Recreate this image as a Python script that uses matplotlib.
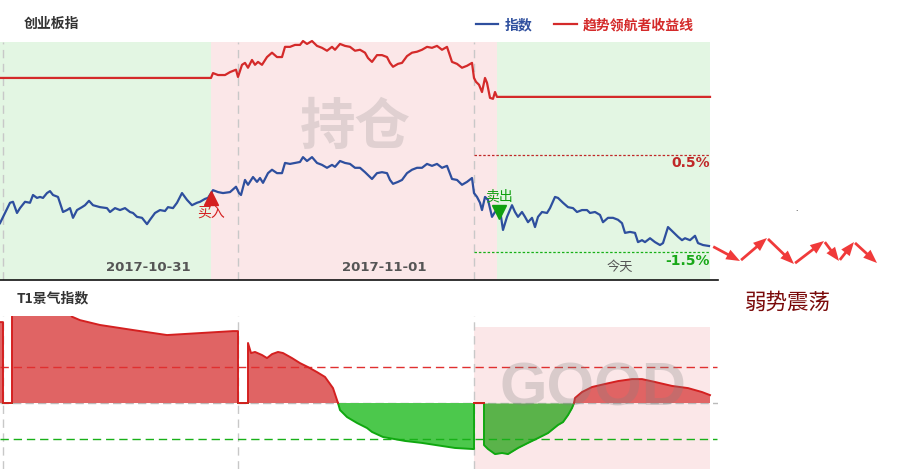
import numpy as np
import matplotlib
matplotlib.use("Agg")
import matplotlib.pyplot as plt
from matplotlib.patches import FancyArrowPatch

plt.rcParams['font.family'] = ['Noto Sans CJK SC', 'DejaVu Sans']

# === données : indice (variation en %) ===
idx_t = [0, 5, 10, 13, 17, 20, 25, 30, 33, 37, 40, 43, 47, 50, 53, 58, 63, 67, 70, 73,
         77, 82, 85, 89, 93, 100, 107, 110, 115, 120, 125, 130, 133, 137, 142, 147, 150, 155, 160, 165,
         168, 173, 177, 182, 187, 192, 197, 200, 205, 208, 213, 218, 223, 230, 236, 239, 241, 245, 248, 253,
         257, 260, 263, 268, 272, 277, 282, 285, 290, 295, 300, 303, 307, 312, 317, 322, 327, 332, 335, 340,
         345, 350, 355, 360, 365, 368, 372, 377, 382, 387, 390, 393, 398, 402, 407, 412, 417, 422, 427, 432,
         437, 442, 447, 452, 457, 462, 467, 472, 474, 477, 480, 482, 485, 488, 492, 495, 500, 503, 507, 512,
         515, 518, 522, 525, 528, 532, 535, 538, 542, 547, 550, 555, 558, 563, 568, 573, 577, 582, 587, 590,
         595, 600, 603, 608, 613, 618, 622, 625, 630, 635, 638, 642, 645, 650, 655, 660, 663, 668, 673, 678,
         682, 685, 690, 695, 698, 703, 709]
idx_val = [-0.91, -0.70, -0.49, -0.47, -0.70, -0.60, -0.47, -0.49, -0.33, -0.39, -0.37, -0.39, -0.29, -0.25, -0.33, -0.37, -0.68, -0.64, -0.60, -0.80,
           -0.64, -0.58, -0.54, -0.45, -0.54, -0.58, -0.60, -0.68, -0.60, -0.64, -0.60, -0.68, -0.70, -0.78, -0.80, -0.93, -0.84, -0.70, -0.64, -0.66,
           -0.58, -0.60, -0.49, -0.29, -0.43, -0.54, -0.49, -0.47, -0.41, -0.39, -0.23, -0.27, -0.29, -0.27, -0.16, -0.29, -0.33, -0.02, -0.12, 0.04,
           -0.06, 0.02, -0.08, 0.12, 0.19, 0.12, 0.12, 0.33, 0.31, 0.33, 0.35, 0.45, 0.37, 0.45, 0.33, 0.29, 0.23, 0.29, 0.25, 0.37,
           0.33, 0.31, 0.23, 0.23, 0.14, 0.08, 0.00, 0.12, 0.14, 0.12, -0.02, -0.10, -0.06, -0.02, 0.12, 0.19, 0.23, 0.23, 0.31, 0.27,
           0.31, 0.23, 0.27, 0.00, -0.02, -0.12, -0.06, 0.02, -0.29, -0.37, -0.49, -0.64, -0.37, -0.43, -0.78, -0.68, -0.64, -1.05, -0.78, -0.54,
           -0.68, -0.78, -0.68, -0.78, -0.89, -0.80, -0.99, -0.78, -0.68, -0.70, -0.60, -0.37, -0.39, -0.49, -0.58, -0.60, -0.68, -0.64, -0.64, -0.70,
           -0.68, -0.74, -0.89, -0.80, -0.80, -0.84, -0.91, -1.11, -1.09, -1.11, -1.30, -1.26, -1.30, -1.22, -1.30, -1.36, -1.32, -0.99, -1.09, -1.19,
           -1.26, -1.22, -1.26, -1.17, -1.32, -1.36, -1.38]

# === courbe de gain de la stratégie ===
strat_t = [0, 211, 213, 218, 225, 230, 236, 238, 242, 245, 248, 252, 255, 258, 262, 267, 272, 277, 282, 285,
           290, 295, 300, 303, 307, 312, 317, 322, 327, 332, 335, 340, 345, 350, 355, 360, 365, 368, 372, 377,
           382, 387, 390, 393, 398, 402, 407, 412, 417, 422, 427, 432, 437, 442, 447, 452, 457, 462, 467, 472,
           474, 476, 479, 482, 485, 487, 490, 493, 495, 497, 710]
strat_val = [2.08, 2.08, 2.18, 2.14, 2.14, 2.20, 2.25, 2.10, 2.35, 2.39, 2.29, 2.45, 2.35, 2.41, 2.35, 2.51, 2.60, 2.51, 2.51, 2.72,
             2.72, 2.76, 2.76, 2.84, 2.78, 2.84, 2.74, 2.70, 2.64, 2.72, 2.66, 2.78, 2.74, 2.72, 2.64, 2.66, 2.60, 2.49, 2.41, 2.55,
             2.55, 2.51, 2.39, 2.31, 2.37, 2.39, 2.53, 2.60, 2.62, 2.66, 2.72, 2.70, 2.74, 2.66, 2.72, 2.41, 2.37, 2.29, 2.33, 2.39,
             2.08, 2.00, 1.94, 1.79, 2.08, 1.98, 1.67, 1.65, 1.79, 1.69, 1.69]

# périodes (vert = vide, rose = en position)
periods = [(0, 211, 'flat'), (211, 497, 'hold'), (497, 710, 'flat')]
day_lines = [3, 238, 474]
day_labels = ['2017-10-31', '2017-11-01', '今天']
day_label_pos = [148, 384, 620]
buy_pt = (211, -0.39)
sell_pt = (499, -0.68)
upper_lvl, lower_lvl = 0.5, -1.5

# === T1 景气指数 ===
t1_t = [0, 3, 3, 12, 12, 66, 72, 80, 100, 133, 167, 200, 233, 238, 238, 248, 248, 251, 255, 262,
        267, 272, 278, 283, 292, 300, 308, 317, 325, 333, 338, 340, 347, 357, 367, 372, 383, 405, 422, 442,
        455, 473, 474, 474, 484, 484, 488, 495, 502, 508, 518, 528, 538, 548, 558, 563, 568, 572, 574, 575,
        582, 592, 605, 618, 632, 642, 655, 672, 688, 702, 710]
t1_val = [45.0, 45.0, 0, 0, 55, 55, 48.0, 46.1, 43.4, 40.6, 37.8, 38.9, 40.0, 40.0, 0, 0, 33.4, 27.8, 28.4, 26.7,
          25.0, 27.2, 28.4, 27.8, 25.0, 22.2, 20.0, 17.2, 14.5, 8.3, 0, -3.9, -7.8, -11.1, -13.9, -16.1, -18.9, -21.1, -22.2, -23.9,
          -25.0, -25.6, -25.6, 0, 0, -23.4, -25.6, -28.4, -27.8, -28.4, -25.0, -22.2, -19.5, -16.7, -12.2, -10.6, -6.7, -2.8, 0, 2.8,
          6.1, 8.9, 10.6, 12.2, 13.3, 13.3, 11.7, 9.5, 8.3, 6.1, 4.4]
t1_hi, t1_lo = 20, -20
good_zone = (474, 710)

# flèches "弱势震荡" (pixels de la figure)
zigzag = [(712, 246), (740, 261), (767, 238), (794, 264), (824, 241), (839, 261), (854, 242), (877, 263)]

W, H = 898, 469
fig = plt.figure(figsize=(W / 100, H / 100), dpi=100)

# ---------- panneau du haut ----------
ax = fig.add_axes([0, 1 - 280 / H, 718 / W, (280 - 42) / H])
ax.set_xlim(0, 718)
ax.set_ylim(-2.08, 2.82)
for a, b, kind in periods:
    ax.axvspan(a, b, color='#e3f6e3' if kind == 'flat' else '#fbe7e8', lw=0, zorder=0)
for d in day_lines:
    ax.axvline(d, color='#c8c8c8', lw=1, ls=(0, (6, 4)), zorder=1)
ax.text(355, 1.05, '持仓', fontsize=40, fontweight='bold', color='#808080', alpha=0.22,
        ha='center', va='center', zorder=1)

ax.hlines(upper_lvl, 474, 710, colors='#c02828', lw=0.9, linestyles=(0, (2, 1.5)), zorder=2)
ax.hlines(lower_lvl, 474, 710, colors='#18b018', lw=0.9, linestyles=(0, (2, 1.5)), zorder=2)
ax.text(710, upper_lvl - 0.18, '0.5%', color='#c02828', fontsize=10, fontweight='bold',
        ha='right', va='center', family='DejaVu Sans')
ax.text(710, lower_lvl - 0.19, '-1.5%', color='#18a818', fontsize=10, fontweight='bold',
        ha='right', va='center', family='DejaVu Sans')

l_idx, = ax.plot(idx_t, idx_val, color='#2e4f9e', lw=1.6, zorder=3, label='指数')
l_str, = ax.plot(strat_t, strat_val, color='#d42a2a', lw=1.6, zorder=3, clip_on=False, label='趋势领航者收益线')

ax.plot(*buy_pt, marker='^', ms=10, color='#d42020', mec='#d42020', zorder=4)
ax.text(buy_pt[0], buy_pt[1] - 0.31, '买入', color='#d42020', fontsize=10, ha='center', va='center')
ax.plot(*sell_pt, marker='v', ms=10, color='#10a010', zorder=4)
ax.text(sell_pt[0], sell_pt[1] + 0.33, '卖出', color='#10a010', fontsize=10, ha='center', va='center')

for lab, pos in zip(day_labels, day_label_pos):
    bold = lab != '今天'
    ax.text(pos, -1.83, lab, color='#555555', fontsize=9.5, fontweight='bold' if bold else 'normal',
            ha='center', va='center', family='DejaVu Sans' if bold else None)

for s in ['top', 'left', 'right']:
    ax.spines[s].set_visible(False)
ax.spines['bottom'].set_color('#111111')
ax.spines['bottom'].set_linewidth(1.2)
ax.set_xticks([])
ax.set_yticks([])

leg = ax.legend(handles=[l_idx, l_str], loc='center left', bbox_to_anchor=(476 / W, 1 - 25 / H),
                bbox_transform=fig.transFigure, ncol=2, frameon=False, fontsize=10,
                handlelength=1.6, handletextpad=0.45, columnspacing=1.6, borderpad=0, borderaxespad=0,
                labelcolor='linecolor')
for t in leg.get_texts():
    t.set_fontweight('bold')

fig.text(24 / W, 1 - 24 / H, '创业板指', fontsize=10, fontweight='bold', color='#333333', va='center')

# ---------- panneau du bas ----------
bx = fig.add_axes([0, 0, 718 / W, (469 - 316) / H])
bx.set_xlim(0, 718)
bx.set_ylim(-36.7, 48.4)
bx.axvspan(*good_zone, ymin=0, ymax=(469 - 327) / (469 - 316), color='#fbe7e8', lw=0, zorder=0)
for d in day_lines:
    bx.axvline(d, color='#c8c8c8', lw=1, ls=(0, (6, 4)), zorder=1)

t = np.array(t1_t, dtype=float)
v = np.array(t1_val, dtype=float)
bx.axhline(0, color='#bbbbbb', lw=1, ls=(0, (6, 3)), zorder=1)
bx.fill_between(t, 0, v, where=v >= 0, interpolate=True, color='#e06464', lw=0, zorder=2)
bx.fill_between(t, 0, v, where=(v <= 0) & (t < good_zone[0]), interpolate=True, color='#4cc84c', lw=0, zorder=2)
bx.fill_between(t, 0, v, where=(v <= 0) & (t >= good_zone[0]), interpolate=True, color='#5ab34a', lw=0, zorder=2)
bx.plot(t, np.where(v <= 0, v, np.nan), color='#10a810', lw=1.4, zorder=3)
bx.plot(t, np.where(v >= 0, v, np.nan), color='#d42020', lw=1.4, zorder=3)
bx.axhline(t1_hi, xmax=717 / 718, color='#e03030', lw=1, ls=(0, (6, 3.5)), zorder=2.5)
bx.axhline(t1_lo, xmax=717 / 718, color='#18b018', lw=1, ls=(0, (6, 3.5)), zorder=2.5)
bx.text(593, 7.2, 'GOOD', fontsize=44, fontweight='bold', family='Liberation Sans', color='#808080',
        alpha=0.27, ha='center', va='center', zorder=5)
for s in bx.spines.values():
    s.set_visible(False)
bx.set_xticks([])
bx.set_yticks([])

fig.text(17 / W, 1 - 298 / H, 'T1景气指数', fontsize=10, fontweight='bold', color='#333333', va='center')

# ---------- annotations à droite ----------
fig.text(745 / W, 1 - 303 / H, '弱势震荡', fontsize=15.5, color='#7a0a0a', va='center')
for (x0, y0), (x1, y1) in zip(zigzag[:-1], zigzag[1:]):
    fig.add_artist(FancyArrowPatch((x0 / W, 1 - y0 / H), (x1 / W, 1 - y1 / H), transform=fig.transFigure,
                                   arrowstyle='simple,head_length=0.9,head_width=0.7,tail_width=0.18',
                                   mutation_scale=11, color='#f03a3a', lw=0, shrinkA=1, shrinkB=0))
fig.text(797 / W, 1 - 213 / H, '.', fontsize=6, color='black', ha='center', va='bottom')

plt.savefig('out.png', dpi=100)
